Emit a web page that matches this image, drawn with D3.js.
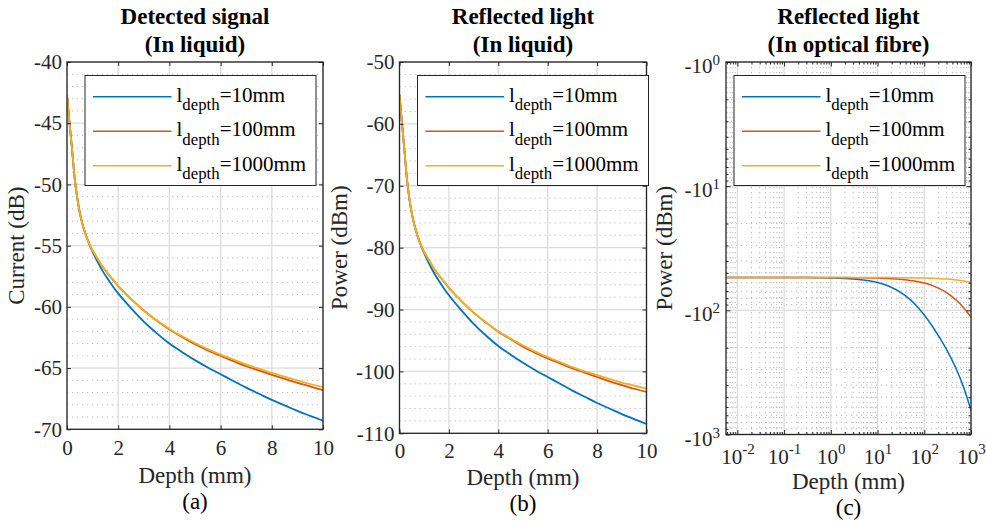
<!DOCTYPE html>
<html><head><meta charset="utf-8">
<script src="https://cdn.jsdelivr.net/npm/d3@7"></script>
<style>
body{margin:0;background:#fff}
svg{display:block}
text{font-family:"Liberation Serif","Times New Roman",serif;}
</style>
</head><body>
<svg id="chart" width="986" height="521"></svg>
<script>
// ---------------- DATA ----------------
const depthLin = [0, 0.1, 0.2, 0.3, 0.4, 0.5, 0.6, 0.7, 0.8, 0.9, 1.0, 1.2, 1.4, 1.6, 1.8, 2.0, 2.5, 3.0, 3.5, 4.0, 4.5, 5.0, 5.5, 6.0, 6.5, 7.0, 7.5, 8.0, 8.5, 9.0, 9.5, 10.0];

// (a) Detected signal, current (dB)
const currentL10   = [-42.7,-45.0,-47.2,-49.5,-51.1,-52.3,-53.2,-53.9,-54.5,-55.05,-55.5,-56.35,-57.1,-57.75,-58.35,-58.9,-60.1,-61.2,-62.15,-63.0,-63.7,-64.35,-64.95,-65.5,-66.05,-66.6,-67.1,-67.6,-68.05,-68.5,-68.9,-69.3];
const currentL100  = [-42.7,-45.0,-47.2,-49.5,-51.1,-52.3,-53.2,-53.9,-54.5,-55.0,-55.4,-56.1,-56.75,-57.3,-57.8,-58.3,-59.35,-60.3,-61.12,-61.85,-62.47,-63.05,-63.55,-64.0,-64.43,-64.85,-65.2,-65.55,-65.88,-66.2,-66.5,-66.8];
const currentL1000 = [-42.7,-45.0,-47.2,-49.5,-51.1,-52.3,-53.2,-53.9,-54.5,-55.0,-55.4,-56.1,-56.75,-57.3,-57.8,-58.3,-59.35,-60.3,-61.1,-61.8,-62.4,-62.95,-63.45,-63.9,-64.3,-64.7,-65.05,-65.4,-65.7,-66.0,-66.3,-66.55];

// (b) Reflected light in liquid, power (dBm)
const liquidL10   = [-55.3,-59.9,-64.3,-68.9,-72.1,-74.5,-76.3,-77.7,-78.9,-80.0,-80.9,-82.6,-84.1,-85.4,-86.6,-87.7,-90.1,-92.3,-94.2,-95.9,-97.3,-98.6,-99.8,-100.9,-102.0,-103.1,-104.1,-105.1,-106.0,-106.9,-107.7,-108.5];
const liquidL100  = [-55.3,-59.9,-64.3,-68.9,-72.1,-74.5,-76.3,-77.7,-78.9,-79.9,-80.7,-82.1,-83.4,-84.5,-85.5,-86.5,-88.6,-90.5,-92.1,-93.6,-94.8,-96.0,-97.0,-97.9,-98.7,-99.5,-100.2,-100.9,-101.6,-102.2,-102.8,-103.3];
const liquidL1000 = [-55.3,-59.9,-64.3,-68.9,-72.1,-74.5,-76.3,-77.7,-78.9,-79.9,-80.7,-82.1,-83.4,-84.5,-85.5,-86.5,-88.6,-90.5,-92.1,-93.5,-94.7,-95.8,-96.8,-97.7,-98.5,-99.3,-100.0,-100.6,-101.2,-101.8,-102.3,-102.8];

// (c) Reflected light in optical fibre, power (dBm), log depth
const depthLog = [0.0057, 0.01, 0.03, 0.1, 0.3, 1, 2, 3, 5, 7, 10, 15, 20, 30, 50, 70, 100, 150, 200, 300, 400, 500, 700, 1000];
const fibreL10   = [-54.4,-54.4,-54.4,-54.4,-54.5,-54.9,-55.4,-55.9,-57.0,-58.1,-59.7,-62.5,-65.5,-71.0,-82.0,-93.0,-109.0,-135.0,-160.0,-207.0,-255.0,-305.0,-420.0,-638.0];
const fibreL100  = [-54.4,-54.4,-54.4,-54.4,-54.4,-54.4,-54.5,-54.6,-54.7,-54.8,-55.0,-55.3,-55.6,-56.2,-57.4,-58.5,-60.3,-63.2,-66.2,-72.0,-77.9,-83.8,-95.6,-113.2];
const fibreL1000 = [-54.4,-54.4,-54.4,-54.4,-54.4,-54.4,-54.4,-54.4,-54.4,-54.4,-54.5,-54.5,-54.5,-54.6,-54.7,-54.8,-54.9,-55.2,-55.5,-56.0,-56.5,-57.1,-58.1,-59.7];

const seriesNames = ['10mm', '100mm', '1000mm'];
const ticksA = [-70, -65, -60, -55, -50, -45, -40];
const ticksB = [-110, -100, -90, -80, -70, -60, -50];
const ticksXLin = [0, 2, 4, 6, 8, 10];
const ticksXLogExp = [-2, -1, 0, 1, 2, 3];
const ticksYLogExp = [0, 1, 2, 3];

// ---------------- STYLE ----------------
const colors = ['#0072BD', '#D95319', '#EDB120'];
const AX = '#262626';
const FS_TICK = 21, FS_LAB = 23;
const svg = d3.select('#chart');

function drawLegend(g, bx, by) {
  const W = 231, H = 110;
  g.append('rect').attr('x', bx).attr('y', by).attr('width', W).attr('height', H)
    .attr('fill', '#fff').attr('stroke', AX).attr('stroke-width', 1);
  seriesNames.forEach((n, i) => {
    const yy = by + 21.3 + i * 34.5;
    g.append('line').attr('x1', bx + 8).attr('x2', bx + 86.5).attr('y1', yy).attr('y2', yy)
      .attr('stroke', colors[i]).attr('stroke-width', 1.5);
    const t = g.append('text').attr('x', bx + 91.5).attr('y', yy + 4.8)
      .attr('font-size', 21).attr('fill', '#000');
    t.append('tspan').text('l');
    t.append('tspan').attr('dy', 8.5).attr('font-size', 16.8).text('depth');
    t.append('tspan').attr('dy', -8.5).text('=' + n);
  });
}

function titleAndLabels(cfg, cx, cy) {
  svg.append('text').attr('x', cx).attr('y', 24).attr('text-anchor', 'middle')
    .attr('font-size', FS_LAB).attr('font-weight', 'bold').attr('fill', '#000').text(cfg.title1);
  svg.append('text').attr('x', cx).attr('y', 52).attr('text-anchor', 'middle')
    .attr('font-size', FS_LAB).attr('font-weight', 'bold').attr('fill', '#000').text(cfg.title2);
  svg.append('text').attr('x', cx).attr('y', cfg.xlabY).attr('text-anchor', 'middle')
    .attr('font-size', FS_LAB).attr('fill', AX).text('Depth (mm)');
  svg.append('text').attr('x', cx).attr('y', cfg.tagY).attr('text-anchor', 'middle')
    .attr('font-size', FS_LAB).attr('fill', '#000').text(cfg.tag);
  svg.append('text').attr('transform', `translate(${cfg.ylabX},${cy}) rotate(-90)`)
    .attr('text-anchor', 'middle').attr('font-size', FS_LAB).attr('fill', AX).text(cfg.ylabel);
}

function styleAxis(sel) {
  sel.select('.domain').remove();
  sel.selectAll('.tick line').attr('stroke', AX).attr('stroke-width', 1);
  sel.selectAll('.tick text').attr('fill', AX).attr('font-size', FS_TICK)
    .attr('font-family', '"Liberation Serif","Times New Roman",serif');
}

function linearPanel(cfg) {
  const x = d3.scaleLinear().domain([0, 10]).range([cfg.left, cfg.right]);
  const y = d3.scaleLinear().domain(cfg.yDomain).range([cfg.bottom, cfg.top]);
  const g = svg.append('g');
  const clipId = 'clip' + cfg.tag.replace(/\W/g, '');
  svg.append('clipPath').attr('id', clipId).append('rect')
    .attr('x', cfg.left).attr('y', cfg.top).attr('width', cfg.right - cfg.left).attr('height', cfg.bottom - cfg.top);
  const minor = d3.range(cfg.yDomain[0], cfg.yDomain[1] + 0.001, cfg.minorStep).filter(v => cfg.yTicks.indexOf(v) < 0);
  g.selectAll('.mg').data(minor).enter().append('line')
    .attr('x1', cfg.left).attr('x2', cfg.right).attr('y1', d => y(d)).attr('y2', d => y(d))
    .attr('stroke', '#b8b8b8').attr('stroke-width', 1).attr('stroke-dasharray', '1.2,3.8');
  g.selectAll('.gy').data(cfg.yTicks).enter().append('line')
    .attr('x1', cfg.left).attr('x2', cfg.right).attr('y1', d => y(d)).attr('y2', d => y(d))
    .attr('stroke', '#dcdcdc').attr('stroke-width', 1.3);
  g.selectAll('.gx').data(ticksXLin).enter().append('line')
    .attr('y1', cfg.top).attr('y2', cfg.bottom).attr('x1', d => x(d)).attr('x2', d => x(d))
    .attr('stroke', '#dcdcdc').attr('stroke-width', 1.3);
  const line = d3.line().x((d, i) => x(depthLin[i])).y(d => y(d)).curve(d3.curveMonotoneX);
  const cg = g.append('g').attr('clip-path', `url(#${clipId})`);
  cfg.series.forEach((s, i) => {
    cg.append('path').datum(s).attr('d', line).attr('fill', 'none')
      .attr('stroke', colors[i]).attr('stroke-width', 1.8).attr('stroke-linejoin', 'round');
  });
  const fmt = d => String(d);
  const ab = g.append('g').attr('transform', `translate(0,${cfg.bottom})`)
    .call(d3.axisBottom(x).tickValues(ticksXLin).tickFormat(fmt).tickSizeInner(-4).tickSizeOuter(0).tickPadding(cfg.xPad));
  styleAxis(ab);
  const at = g.append('g').attr('transform', `translate(0,${cfg.top})`)
    .call(d3.axisTop(x).tickValues(ticksXLin).tickFormat('').tickSizeInner(-4).tickSizeOuter(0));
  styleAxis(at);
  const al = g.append('g').attr('transform', `translate(${cfg.left},0)`)
    .call(d3.axisLeft(y).tickValues(cfg.yTicks).tickFormat(fmt).tickSizeInner(-4).tickSizeOuter(0).tickPadding(5));
  styleAxis(al);
  const ar = g.append('g').attr('transform', `translate(${cfg.right},0)`)
    .call(d3.axisRight(y).tickValues(cfg.yTicks).tickFormat('').tickSizeInner(-4).tickSizeOuter(0));
  styleAxis(ar);
  g.append('rect').attr('x', cfg.left).attr('y', cfg.top).attr('width', cfg.right - cfg.left)
    .attr('height', cfg.bottom - cfg.top).attr('fill', 'none').attr('stroke', AX).attr('stroke-width', 1.3);
  drawLegend(g, cfg.left + 18, 75.5);
  titleAndLabels(cfg, (cfg.left + cfg.right) / 2, (cfg.top + cfg.bottom) / 2);
}

function logPanel(cfg) {
  const x = d3.scaleLog().domain([depthLog[0], 1000]).range([cfg.left, cfg.right]);
  const y = d3.scaleLog().domain([1, 1000]).range([cfg.top, cfg.bottom]); // |power|
  const g = svg.append('g');
  svg.append('clipPath').attr('id', 'clipc').append('rect')
    .attr('x', cfg.left).attr('y', cfg.top).attr('width', cfg.right - cfg.left).attr('height', cfg.bottom - cfg.top);
  const xMaj = ticksXLogExp.map(e => Math.pow(10, e));
  const yMaj = ticksYLogExp.map(e => Math.pow(10, e));
  const xMin = [], yMin = [];
  [-3, -2, -1, 0, 1, 2].forEach(e => { for (let m = 2; m <= 9; m++) { const v = m * Math.pow(10, e); if (v >= depthLog[0] && v <= 1000) xMin.push(v); } });
  [0, 1, 2].forEach(e => { for (let m = 2; m <= 9; m++) yMin.push(m * Math.pow(10, e)); });
  g.selectAll('.mgx').data(xMin).enter().append('line')
    .attr('y1', cfg.top).attr('y2', cfg.bottom).attr('x1', d => x(d)).attr('x2', d => x(d))
    .attr('stroke', '#b8b8b8').attr('stroke-width', 1).attr('stroke-dasharray', '1.2,3.8');
  g.selectAll('.mgy').data(yMin).enter().append('line')
    .attr('x1', cfg.left).attr('x2', cfg.right).attr('y1', d => y(d)).attr('y2', d => y(d))
    .attr('stroke', '#b8b8b8').attr('stroke-width', 1).attr('stroke-dasharray', '1.2,3.8');
  g.selectAll('.gx').data(xMaj).enter().append('line')
    .attr('y1', cfg.top).attr('y2', cfg.bottom).attr('x1', d => x(d)).attr('x2', d => x(d))
    .attr('stroke', '#dcdcdc').attr('stroke-width', 1.3);
  g.selectAll('.gy').data(yMaj).enter().append('line')
    .attr('x1', cfg.left).attr('x2', cfg.right).attr('y1', d => y(d)).attr('y2', d => y(d))
    .attr('stroke', '#dcdcdc').attr('stroke-width', 1.3);
  const line = d3.line().x((d, i) => x(depthLog[i])).y(d => y(-d)).curve(d3.curveMonotoneX);
  const cg = g.append('g').attr('clip-path', 'url(#clipc)');
  cfg.series.forEach((s, i) => {
    cg.append('path').datum(s).attr('d', line).attr('fill', 'none')
      .attr('stroke', colors[i]).attr('stroke-width', 1.5);
  });
  const mk = (axis, tr) => { const a = g.append('g').attr('transform', tr).call(axis); styleAxis(a); return a; };
  mk(d3.axisBottom(x).tickValues(xMin).tickFormat('').tickSizeInner(-2.5).tickSizeOuter(0), `translate(0,${cfg.bottom})`);
  mk(d3.axisTop(x).tickValues(xMin).tickFormat('').tickSizeInner(-2.5).tickSizeOuter(0), `translate(0,${cfg.top})`);
  mk(d3.axisLeft(y).tickValues(yMin).tickFormat('').tickSizeInner(-2.5).tickSizeOuter(0), `translate(${cfg.left},0)`);
  mk(d3.axisRight(y).tickValues(yMin).tickFormat('').tickSizeInner(-2.5).tickSizeOuter(0), `translate(${cfg.right},0)`);
  const ab = mk(d3.axisBottom(x).tickValues(xMaj).tickSizeInner(-4.5).tickSizeOuter(0).tickPadding(0), `translate(0,${cfg.bottom})`);
  ab.selectAll('.tick text').each(function (d, i) {
    const t = d3.select(this).text(null).attr('dy', null).attr('y', 29.3);
    t.append('tspan').text('10');
    t.append('tspan').attr('dy', -10).attr('font-size', 15).text(String(ticksXLogExp[i]));
  });
  mk(d3.axisTop(x).tickValues(xMaj).tickFormat('').tickSizeInner(-4.5).tickSizeOuter(0), `translate(0,${cfg.top})`);
  const al = mk(d3.axisLeft(y).tickValues(yMaj).tickSizeInner(-4.5).tickSizeOuter(0).tickPadding(6), `translate(${cfg.left},0)`);
  al.selectAll('.tick text').each(function (d, i) {
    const t = d3.select(this).text(null).attr('dy', 10.5);
    t.append('tspan').text('-10');
    t.append('tspan').attr('dy', -8).attr('font-size', 15).text(String(ticksYLogExp[i]));
  });
  mk(d3.axisRight(y).tickValues(yMaj).tickFormat('').tickSizeInner(-4.5).tickSizeOuter(0), `translate(${cfg.right},0)`);
  g.append('rect').attr('x', cfg.left).attr('y', cfg.top).attr('width', cfg.right - cfg.left)
    .attr('height', cfg.bottom - cfg.top).attr('fill', 'none').attr('stroke', AX).attr('stroke-width', 1.3);
  drawLegend(g, cfg.left + 8, 75.5);
  titleAndLabels(cfg, (cfg.left + cfg.right) / 2, (cfg.top + cfg.bottom) / 2);
}

linearPanel({
  left: 67, right: 323, top: 62, bottom: 429.3, yDomain: [-70, -40], yTicks: ticksA, minorStep: 1,
  series: [currentL10, currentL100, currentL1000], xPad: 10.8,
  title1: 'Detected signal', title2: '(In liquid)', ylabel: 'Current (dB)', ylabX: 23.5,
  xlabY: 482.5, tag: '(a)', tagY: 508.5
});
linearPanel({
  left: 399.5, right: 646.5, top: 62, bottom: 433.3, yDomain: [-110, -50], yTicks: ticksB, minorStep: 2,
  series: [liquidL10, liquidL100, liquidL1000], xPad: 9.3,
  title1: 'Reflected light', title2: '(In liquid)', ylabel: 'Power (dBm)', ylabX: 346.5,
  xlabY: 485, tag: '(b)', tagY: 511
});
logPanel({
  left: 726, right: 971, top: 62, bottom: 434.5,
  series: [fibreL10, fibreL100, fibreL1000],
  title1: 'Reflected light', title2: '(In optical fibre)', ylabel: 'Power (dBm)', ylabX: 671.5,
  xlabY: 489.3, tag: '(c)', tagY: 515
});
</script>
</body></html>
